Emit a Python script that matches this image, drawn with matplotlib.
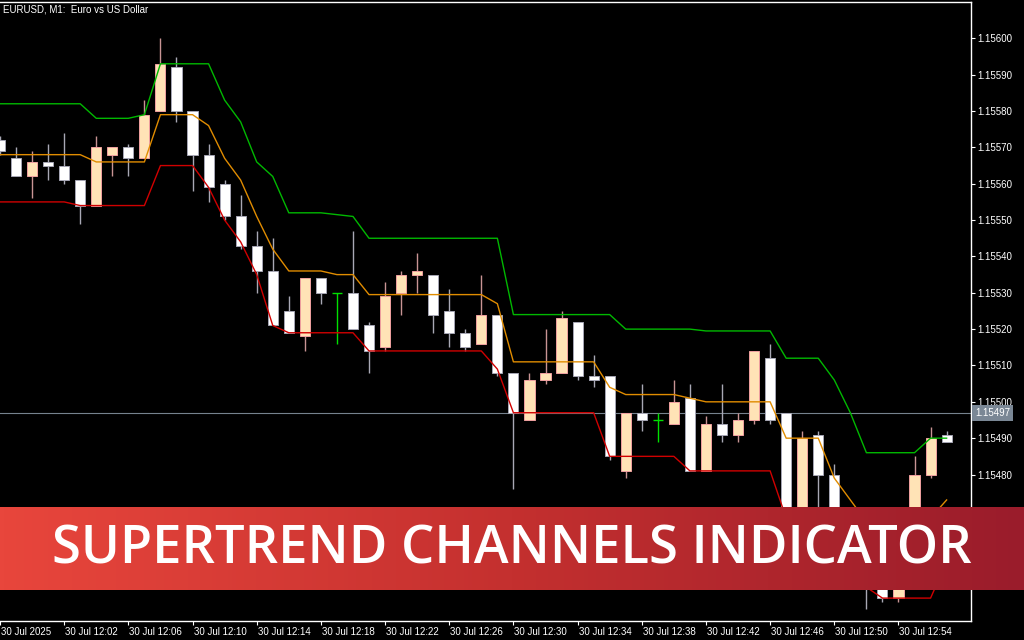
import matplotlib
matplotlib.use("Agg")
import matplotlib.pyplot as plt
import numpy as np
from matplotlib.patches import Rectangle
from matplotlib.colors import LinearSegmentedColormap
from matplotlib.transforms import ScaledTranslation

plt.rcParams['font.family'] = ['Liberation Sans', 'DejaVu Sans']

symbol_title = "EURUSD, M1:  Euro vs US Dollar"
banner_title = "SUPERTREND CHANNELS INDICATOR"

# bar index of each time label
tick_bars = [0, 4, 8, 12, 16, 20, 24, 28, 32, 36, 40, 44, 48, 52, 56]
tick_labels = ["30 Jul 2025", "30 Jul 12:02", "30 Jul 12:06", "30 Jul 12:10",
               "30 Jul 12:14", "30 Jul 12:18", "30 Jul 12:22", "30 Jul 12:26",
               "30 Jul 12:30", "30 Jul 12:34", "30 Jul 12:38", "30 Jul 12:42",
               "30 Jul 12:46", "30 Jul 12:50", "30 Jul 12:54"]
price_ticks = [1.15450, 1.15460, 1.15470, 1.15480, 1.15490, 1.15500, 1.15510, 1.15520,
               1.15530, 1.15540, 1.15550, 1.15560, 1.15570, 1.15580, 1.15590, 1.15600]
current_price = 1.15497

# OHLC, one value per minute bar (11:58 .. 12:57)
opens = [1.15572, 1.15567, 1.15562, 1.15566, 1.15565, 1.15561, 1.15554, 1.15568, 1.15570, 1.15567,
         1.15580, 1.15592, 1.15580, 1.15568, 1.15560, 1.15551, 1.15543, 1.15536, 1.15525, 1.15518,
         1.15534, 1.15530, 1.15530, 1.15521, 1.15515, 1.15530, 1.15535, 1.15535, 1.15525, 1.15519,
         1.15516, 1.15524, 1.15508, 1.15495, 1.15506, 1.15508, 1.15522, 1.15507, 1.15507, 1.15481,
         1.15497, 1.15495, 1.15494, 1.15501, 1.15481, 1.15494, 1.15491, 1.15495, 1.15512, 1.15497,
         1.15469, 1.15491, 1.15480, 1.15456, 1.15452, 1.15452, 1.15446, 1.15462, 1.15480, 1.15491]
highs = [1.15573, 1.15570, 1.15569, 1.15571, 1.15574, 1.15561, 1.15573, 1.15570, 1.15571, 1.15583,
         1.15600, 1.15595, 1.15580, 1.15571, 1.15561, 1.15557, 1.15547, 1.15545, 1.15529, 1.15534,
         1.15534, 1.15530, 1.15547, 1.15522, 1.15533, 1.15536, 1.15541, 1.15535, 1.15531, 1.15520,
         1.15535, 1.15524, 1.15508, 1.15508, 1.15520, 1.15525, 1.15522, 1.15513, 1.15507, 1.15497,
         1.15505, 1.15497, 1.15506, 1.15505, 1.15496, 1.15505, 1.15497, 1.15514, 1.15516, 1.15497,
         1.15492, 1.15492, 1.15483, 1.15460, 1.15458, 1.15455, 1.15465, 1.15485, 1.15493, 1.15492]
lows = [1.15568, 1.15562, 1.15556, 1.15561, 1.15560, 1.15549, 1.15554, 1.15562, 1.15562, 1.15567,
        1.15580, 1.15577, 1.15558, 1.15555, 1.15550, 1.15542, 1.15530, 1.15521, 1.15519, 1.15514,
        1.15527, 1.15516, 1.15520, 1.15508, 1.15514, 1.15524, 1.15530, 1.15519, 1.15515, 1.15514,
        1.15516, 1.15507, 1.15476, 1.15495, 1.15505, 1.15508, 1.15506, 1.15504, 1.15484, 1.15479,
        1.15492, 1.15489, 1.15494, 1.15481, 1.15481, 1.15489, 1.15489, 1.15494, 1.15494, 1.15466,
        1.15466, 1.15465, 1.15451, 1.15450, 1.15443, 1.15445, 1.15445, 1.15460, 1.15479, 1.15489]
closes = [1.15569, 1.15562, 1.15566, 1.15565, 1.15561, 1.15554, 1.15570, 1.15570, 1.15567, 1.15579,
          1.15593, 1.15580, 1.15568, 1.15559, 1.15551, 1.15543, 1.15536, 1.15521, 1.15519, 1.15534,
          1.15530, 1.15530, 1.15520, 1.15514, 1.15529, 1.15535, 1.15536, 1.15524, 1.15519, 1.15515,
          1.15524, 1.15508, 1.15497, 1.15506, 1.15508, 1.15523, 1.15507, 1.15506, 1.15485, 1.15497,
          1.15495, 1.15495, 1.15500, 1.15481, 1.15494, 1.15491, 1.15495, 1.15514, 1.15495, 1.15468,
          1.15490, 1.15480, 1.15453, 1.15450, 1.15450, 1.15446, 1.15462, 1.15480, 1.15490, 1.15489]

# supertrend channel lines
upper = [1.15582, 1.15582, 1.15582, 1.15582, 1.15582, 1.15582, 1.15578, 1.15578, 1.15578, 1.15579,
         1.15593, 1.15593, 1.15593, 1.15593, 1.15583, 1.15577, 1.15566, 1.15562, 1.15552, 1.15552,
         1.15552, 1.155515, 1.15551, 1.15545, 1.15545, 1.15545, 1.15545, 1.15545, 1.15545, 1.15545,
         1.15545, 1.15545, 1.15524, 1.15524, 1.15524, 1.15524, 1.15524, 1.15524, 1.15524, 1.15520,
         1.15520, 1.15520, 1.15520, 1.15520, 1.155195, 1.155195, 1.155195, 1.155195, 1.155195, 1.15512,
         1.15512, 1.15512, 1.15506, 1.15497, 1.15486, 1.15486, 1.15486, 1.15486, 1.15490, 1.15490]
middle = [1.15568, 1.15568, 1.15568, 1.15568, 1.15568, 1.15568, 1.15566, 1.15566, 1.15566, 1.15566,
          1.15579, 1.15579, 1.15579, 1.15576, 1.15567, 1.15561, 1.15551, 1.15542, 1.15536, 1.15536,
          1.15536, 1.15535, 1.15535, 1.155295, 1.155295, 1.155295, 1.155295, 1.155295, 1.155295, 1.155295,
          1.155295, 1.15527, 1.15511, 1.15511, 1.15511, 1.15511, 1.15511, 1.15511, 1.15504, 1.15502,
          1.15502, 1.15502, 1.15502, 1.15501, 1.15500, 1.15500, 1.15500, 1.15500, 1.15500, 1.15490,
          1.15490, 1.15490, 1.15479, 1.15473, 1.15467, 1.15466, 1.15466, 1.15466, 1.15468, 1.15473]
lower = [1.15555, 1.15555, 1.15555, 1.15555, 1.15555, 1.15554, 1.15554, 1.15554, 1.15554, 1.15554,
         1.15565, 1.15565, 1.15565, 1.15559, 1.15550, 1.15544, 1.15535, 1.15521, 1.15519, 1.15519,
         1.15519, 1.15519, 1.15519, 1.15514, 1.15514, 1.15514, 1.15514, 1.15514, 1.15514, 1.15514,
         1.15514, 1.15509, 1.15497, 1.15497, 1.15497, 1.15497, 1.15497, 1.15497, 1.15485, 1.15485,
         1.15485, 1.15485, 1.15485, 1.15481, 1.15481, 1.15481, 1.15481, 1.15481, 1.15481, 1.15468,
         1.15468, 1.15468, 1.15453, 1.15449, 1.15449, 1.15446, 1.15446, 1.15446, 1.15446, 1.15456]

fig = plt.figure(figsize=(10.24, 6.4), dpi=100, facecolor='black')
ax = fig.add_axes([0, 1 - 621 / 640, 971 / 1024, 619 / 640])
ax.set_facecolor('black')

bars = np.arange(len(opens))
ax.set_xlim(0.0585, 60.52)
ax.set_ylim(1.154397, 1.156100)

ax.axhline(current_price, color='#76828E', lw=0.8, zorder=1)

body_w = 0.63
for i in bars:
    o, h, l, c = opens[i], highs[i], lows[i], closes[i]
    if o == c:
        # doji drawn as a green cross
        ax.vlines(i, l, h, color='#00E000', lw=1.0, zorder=3)
        ax.hlines(c, i - body_w / 2, i + body_w / 2, color='#00E000', lw=1.0, zorder=3)
        continue
    if c > o:
        fill, edge, wick = '#FFE3B6', '#F0A0A0', '#C89494'
    else:
        fill, edge, wick = '#FFFFFF', '#A6A6B4', '#A8A8B4'
    ax.vlines(i, l, h, color=wick, lw=1.0, zorder=2)
    ax.add_patch(Rectangle((i - body_w / 2, min(o, c)), body_w, abs(c - o),
                           facecolor=fill, edgecolor=edge, lw=0.7, zorder=3))

ax.plot(bars, upper, color='#00B800', lw=1.0, zorder=4)
ax.plot(bars, middle, color='#E08C00', lw=1.0, zorder=4)
ax.plot(bars, lower, color='#D00000', lw=1.0, zorder=4)

for side in ['top', 'right', 'bottom']:
    ax.spines[side].set_color('white')
    ax.spines[side].set_linewidth(1.0)
ax.spines['left'].set_visible(False)

ax.yaxis.tick_right()
ax.set_yticks(price_ticks)
ax.set_yticklabels([f"{p:.5f}" for p in price_ticks])
ax.set_xticks(tick_bars)
ax.set_xticklabels(tick_labels, ha='left')
ax.tick_params(axis='both', colors='white', labelcolor='white', labelsize=7,
               length=3, width=0.8, direction='out')
ax.tick_params(axis='x', pad=1.5)
ax.tick_params(axis='y', pad=1.5)
for lbl in ax.get_xticklabels():
    lbl.set_transform(lbl.get_transform() + ScaledTranslation(1 / 100, 0, fig.dpi_scale_trans))

ax.text(1.0045, current_price, f"{current_price:.5f}", transform=ax.get_yaxis_transform(),
        ha='left', va='center', fontsize=7, color='white', zorder=6, clip_on=False,
        bbox=dict(boxstyle='square,pad=0.3', fc='#7A8795', ec='none'))

fig.text(3 / 1024, 1 - 10 / 640, symbol_title, color='white', fontsize=7,
         ha='left', va='center')

# red title banner
bax = fig.add_axes([0, 1 - 590 / 640, 1, 83 / 640])
grad = np.linspace(0, 1, 256).reshape(1, -1)
cmap = LinearSegmentedColormap.from_list('banner', ['#E8463C', '#C4302F', '#9A1C2B'])
bax.imshow(grad, aspect='auto', cmap=cmap, extent=[0, 1, 0, 1])
bax.set_xlim(0, 1)
bax.set_ylim(0, 1)
bax.axis('off')
bax.text(0.5, 0.322, banner_title, ha='center', va='baseline', color='white',
         fontsize=37.8, fontweight='semibold', family=['Open Sans', 'DejaVu Sans'])

fig.savefig('out.png', dpi=100, facecolor='black')
